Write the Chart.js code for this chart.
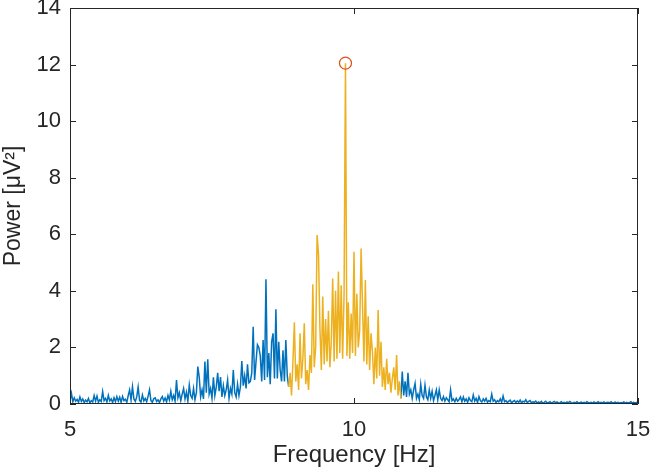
<!DOCTYPE html>
<html>
<head>
<meta charset="utf-8">
<script src="https://cdn.jsdelivr.net/npm/chart.js@4"></script>
<style>
  html, body { margin: 0; padding: 0; background: #fff; }
  #wrap { width: 650px; height: 467px; }
</style>
</head>
<body>
<div id="wrap"><canvas id="psd" width="650" height="467"></canvas></div>
<script>
// frequency grid of the spectrum (Hz)
const freqStart = 5;
const freqStep = 0.025;

// power [uV^2]
// 5.000 - 6.775 Hz
const powerLow = [
  0.12, 0.38, 0.08, 0.22, 0.10, 0.16, 0.06, 0.25, 0.09, 0.18,
  0.05, 0.14, 0.08, 0.20, 0.04, 0.12, 0.07, 0.30, 0.10, 0.28,
  0.06, 0.15, 0.09, 0.44, 0.12, 0.20, 0.07, 0.31, 0.11, 0.18,
  0.05, 0.22, 0.08, 0.26, 0.10, 0.24, 0.06, 0.27, 0.12, 0.17,
  0.06, 0.30, 0.50, 0.14, 0.61, 0.18, 0.09, 0.25, 0.60, 0.13,
  0.07, 0.32, 0.11, 0.20, 0.08, 0.28, 0.50, 0.12, 0.06, 0.19,
  0.22, 0.09, 0.15, 0.05, 0.18, 0.26, 0.10, 0.21, 0.07, 0.30,
  0.14, 0.45
];
// 6.800 - 8.825 Hz
const powerRise = [
  0.15, 0.30, 0.10, 0.85, 0.22, 0.40, 0.12, 0.35, 0.55, 0.18,
  0.42, 0.10, 0.67, 0.30, 0.20, 0.55, 0.15, 0.40, 1.32, 0.95,
  0.25, 0.50, 0.18, 1.50, 0.40, 1.58, 0.35, 0.55, 0.20, 0.94,
  0.30, 0.60, 1.10, 0.45, 0.95, 0.25, 0.65, 0.30, 0.50, 0.85,
  0.20, 0.55, 0.35, 1.20, 0.40, 0.25, 0.70, 0.30, 0.60, 1.52,
  0.65, 1.00, 0.55, 1.40, 0.75, 0.80, 1.10, 2.73, 0.85, 1.50,
  2.10, 2.00, 1.70, 0.80, 2.26, 0.85, 4.41, 0.95, 1.80, 0.70,
  2.20, 2.50, 0.90, 3.35, 0.90, 2.20, 1.20, 0.80, 1.90, 0.80,
  2.26, 1.00
];
// 8.850 - 10.825 Hz (highlighted alpha band)
const powerAlpha = [
  0.60, 1.10, 0.30, 1.50, 2.89, 0.80, 1.40, 0.50, 2.50, 0.90,
  1.60, 2.85, 0.70, 1.20, 0.50, 1.73, 1.10, 4.23, 1.30, 2.00,
  5.97, 5.30, 2.67, 1.20, 3.80, 1.40, 3.00, 1.50, 3.30, 1.30,
  2.20, 4.44, 1.50, 4.00, 1.60, 4.68, 1.80, 4.20, 1.60, 3.85,
  12.05, 1.70, 3.60, 1.60, 3.20, 1.80, 5.38, 1.70, 3.90, 2.00,
  2.60, 5.50, 3.50, 1.50, 4.38, 1.40, 3.10, 1.20, 2.50, 1.85,
  0.70, 2.00, 0.90, 3.32, 1.00, 2.20, 0.60, 1.30, 0.50, 1.60,
  0.70, 1.10, 0.40, 0.90, 1.30, 0.50, 1.73, 0.30, 0.80, 0.20
];
// 10.850 - 15.000 Hz
const powerTail = [
  1.15, 0.30, 0.80, 0.25, 1.10, 0.35, 0.50, 0.20, 0.50, 0.73,
  0.20, 0.35, 0.15, 0.70, 0.30, 0.20, 0.67, 0.25, 0.15, 0.50,
  0.20, 0.45, 0.12, 0.30, 0.50, 0.15, 0.50, 0.20, 0.12, 0.26,
  0.10, 0.22, 0.15, 0.08, 0.50, 0.12, 0.18, 0.08, 0.20, 0.10,
  0.16, 0.25, 0.08, 0.25, 0.10, 0.18, 0.06, 0.22, 0.12, 0.08,
  0.32, 0.10, 0.20, 0.05, 0.26, 0.12, 0.07, 0.18, 0.10, 0.20,
  0.06, 0.12, 0.08, 0.35, 0.10, 0.15, 0.05, 0.12, 0.08, 0.18,
  0.06, 0.28, 0.08, 0.12, 0.05, 0.10, 0.14, 0.04, 0.09, 0.12,
  0.05, 0.11, 0.06, 0.14, 0.04, 0.10, 0.07, 0.15, 0.05, 0.09,
  0.12, 0.04, 0.08, 0.06, 0.10, 0.03,
  0.07, 0.04, 0.09, 0.03, 0.06, 0.10, 0.04, 0.05, 0.08, 0.03,
  0.06, 0.09, 0.04, 0.07, 0.03, 0.05, 0.08, 0.04, 0.06, 0.03,
  0.07, 0.04, 0.09, 0.05, 0.03, 0.06, 0.04, 0.08, 0.03, 0.05,
  0.07, 0.04, 0.06, 0.03, 0.08, 0.05, 0.04, 0.06, 0.03, 0.07,
  0.04, 0.05, 0.08, 0.03, 0.06, 0.04, 0.07, 0.03, 0.05, 0.06,
  0.04, 0.08, 0.03, 0.05, 0.07, 0.04, 0.06, 0.03, 0.05, 0.04,
  0.07, 0.03, 0.06, 0.04, 0.05, 0.08, 0.03, 0.06, 0.04, 0.05,
  0.04
];

const xTicks = [5, 10, 15];
const yTicks = [0, 2, 4, 6, 8, 10, 12, 14];

const BLUE = '#0072BD';
const ORANGE = '#EDB120';
const RED = '#D95319';
const AXIS = '#262626';
const FONT = "'Liberation Sans', Arial, Helvetica, sans-serif";

const power = [...powerLow, ...powerRise, ...powerAlpha, ...powerTail];
const spectrum = power.map((p, i) => ({ x: +(freqStart + i * freqStep).toFixed(3), y: p }));

const alphaFrom = powerLow.length + powerRise.length;
const alphaTo = alphaFrom + powerAlpha.length - 1;
const alphaPts = spectrum.slice(alphaFrom, alphaTo + 1);
// blue trace leaves a gap where the orange band is drawn
const bluePts = spectrum.map((p, i) => (i > alphaFrom && i < alphaTo ? { x: p.x, y: null } : p));
const peak = alphaPts.reduce((a, b) => (b.y > a.y ? b : a));

// matlab style box with inward ticks on all four sides
const boxAxes = {
  id: 'boxAxes',
  afterDatasetsDraw(chart) {
    const { ctx, chartArea: a, scales } = chart;
    const len = 6;
    ctx.save();
    ctx.strokeStyle = AXIS;
    ctx.lineWidth = 1;
    ctx.beginPath();
    ctx.rect(a.left + 0.5, a.top + 0.5, a.right - a.left - 1, a.bottom - a.top - 1);
    scales.x.ticks.forEach(t => {
      const px = Math.round(scales.x.getPixelForValue(t.value)) + 0.5;
      ctx.moveTo(px, a.bottom); ctx.lineTo(px, a.bottom - len);
      ctx.moveTo(px, a.top); ctx.lineTo(px, a.top + len);
    });
    scales.y.ticks.forEach(t => {
      const py = Math.round(scales.y.getPixelForValue(t.value)) + 0.5;
      ctx.moveTo(a.left, py); ctx.lineTo(a.left + len, py);
      ctx.moveTo(a.right, py); ctx.lineTo(a.right - len, py);
    });
    ctx.stroke();
    ctx.restore();
  }
};

function noPad(scale) {
  scale.paddingTop = 0;
  scale.paddingBottom = 0;
  scale.paddingLeft = 0;
  scale.paddingRight = 0;
}

new Chart(document.getElementById('psd'), {
  type: 'line',
  data: {
    datasets: [
      {
        label: 'peak',
        data: [peak],
        showLine: false,
        pointRadius: 6,
        pointBorderWidth: 1.2,
        pointBorderColor: RED,
        pointBackgroundColor: 'rgba(0,0,0,0)',
        order: 0
      },
      {
        label: 'alpha',
        data: alphaPts,
        borderColor: ORANGE,
        borderWidth: 1.5,
        pointRadius: 0,
        tension: 0,
        order: 1
      },
      {
        label: 'spectrum',
        data: bluePts,
        borderColor: BLUE,
        borderWidth: 1.5,
        pointRadius: 0,
        tension: 0,
        spanGaps: false,
        order: 2
      }
    ]
  },
  options: {
    responsive: false,
    animation: false,
    events: [],
    layout: { padding: { top: 8, right: 12, bottom: 0, left: 0 } },
    plugins: { legend: { display: false }, tooltip: { enabled: false } },
    scales: {
      x: {
        type: 'linear',
        min: 5,
        max: 15,
        afterBuildTicks: s => { s.ticks = xTicks.map(v => ({ value: v })); },
        afterFit: s => { s.height = 63; noPad(s); },
        grid: { display: false, drawTicks: false },
        border: { display: false },
        ticks: { color: AXIS, padding: 13, maxRotation: 0, font: { family: FONT, size: 22 } },
        title: {
          display: true,
          text: 'Frequency [Hz]',
          color: AXIS,
          padding: 0,
          font: { family: FONT, size: 24, lineHeight: 1.0 }
        }
      },
      y: {
        min: 0,
        max: 14,
        afterBuildTicks: s => { s.ticks = yTicks.map(v => ({ value: v })); },
        afterFit: s => { s.width = 70; noPad(s); },
        grid: { display: false, drawTicks: false },
        border: { display: false },
        ticks: { color: AXIS, padding: 9, font: { family: FONT, size: 22 } },
        title: {
          display: true,
          text: 'Power [μV²]',
          color: AXIS,
          padding: 0,
          font: { family: FONT, size: 23, lineHeight: 1.2 }
        }
      }
    }
  },
  plugins: [boxAxes]
});
</script>
</body>
</html>
